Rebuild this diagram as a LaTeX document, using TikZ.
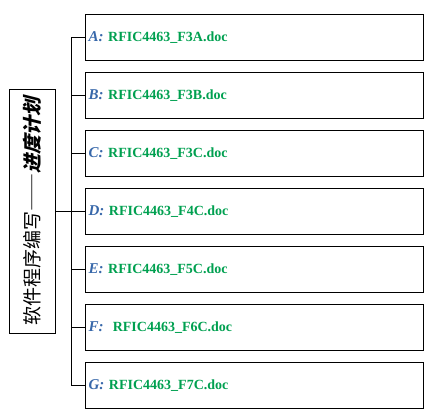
\documentclass[tikz,border=0pt]{standalone}
\usepackage{fontspec}
\setmainfont{Liberation Serif}
\newfontfamily\cjk{Noto Sans CJK SC}
\newfontfamily\cjkwide{Noto Sans CJK SC}[RawFeature=+fwid]
\newfontfamily\cjkslant{Noto Sans CJK SC}[FakeSlant=0.25]
\definecolor{labelblue}{HTML}{3868AA}
\definecolor{docgreen}{HTML}{00A050}
\begin{document}
\begin{tikzpicture}[x=1pt, y=-1pt,
    filebox/.style={draw, line width=1pt, minimum width=338pt, minimum height=46pt,
      text width=332pt, align=left, inner sep=3pt, anchor=north west,
      font=\fontsize{14}{16}\selectfont\bfseries},
    titlebox/.style={draw, line width=1pt, rotate=90, minimum width=244pt,
      minimum height=46pt, inner sep=2pt, font=\fontsize{19}{21}\selectfont},
    link/.style={line width=0.8pt}]
      \useasboundingbox (0,0) rectangle (432,418);
      %
      \node[titlebox] (title) at (32,211)
        {\cjk 软件程序编写{\cjkwide ——}\cjkslant\bfseries 进度计划};
      \coordinate (spine) at (71,0);
      %
      \foreach \n/\t [count=\i from 0] in {A/RFIC4463\_F3A.doc, B/RFIC4463\_F3B.doc,
          C/RFIC4463\_F3C.doc, D/RFIC4463\_F4C.doc, E/RFIC4463\_F5C.doc,
          F/{\ RFIC4463\_F6C.doc}, G/RFIC4463\_F7C.doc}
      {
        \node[filebox] (f\n) at (85,14+58*\i)
          {\textcolor{labelblue}{\fontsize{15}{16}\selectfont\textit{\n:}} \textcolor{docgreen}{\t}};
        \draw[link] (f\n.west) -- (f\n.west -| spine);   % branch
      }
      %
      \draw[link] (fA.west -| spine) -- (fG.west -| spine); % spine
      \draw[link] (title.south) -- (title.south -| spine);
    \end{tikzpicture}
\end{document}
